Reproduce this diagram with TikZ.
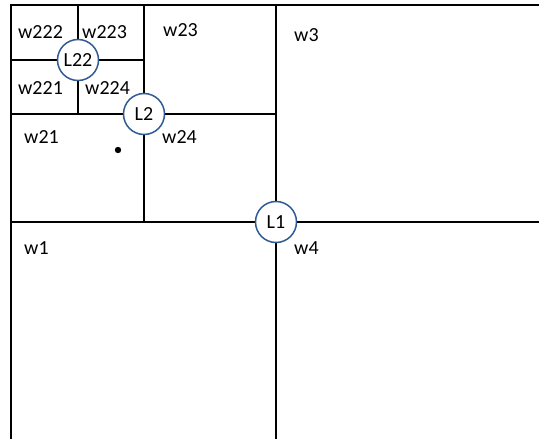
\documentclass[tikz,border=0pt]{standalone}
\usepackage{fontspec}
\setmainfont{Carlito}
\definecolor{circblue}{HTML}{2F5A94}
\begin{document}
\begin{tikzpicture}[x=1pt,y=-1pt,
  wall/.style={line width=1.3pt,black},
  lab/.style={anchor=west,inner sep=0pt,font=\fontsize{20}{22}\selectfont},
  lnode/.style={circle,draw=circblue,fill=white,line width=1.5pt,minimum size=41pt,inner sep=0pt,font=\fontsize{20}{22}\selectfont}]
\useasboundingbox (0,0) rectangle (539,439);
% frame corners
\coordinate (tl) at (11,5);
\coordinate (tr) at (539,5);
\coordinate (bl) at (11,439);
\draw[line width=1.8pt] (bl) -- (tl) -- (tr);
% level 1
\coordinate (h1l) at (11,222);
\coordinate (h1r) at (539,222);
\coordinate (v1t) at (276,5);
\coordinate (v1b) at (276,439);
\draw[wall] (h1l) -- (h1r);
\draw[wall] (v1t) -- (v1b);
% level 2
\coordinate (v2t) at (144,5);
\coordinate (v2b) at (144,222);
\coordinate (h2l) at (11,114);
\coordinate (h2r) at (276,114);
\draw[wall] (v2t) -- (v2b);
\draw[wall] (h2l) -- (h2r);
% level 3
\coordinate (v3t) at (78,5);
\coordinate (v3b) at (78,114);
\coordinate (h3l) at (11,60);
\coordinate (h3r) at (144,60);
\draw[wall] (v3t) -- (v3b);
\draw[wall] (h3l) -- (h3r);
% circles
\node[lnode] (L22) at (78,60) {L22};
\node[lnode] (L2) at (144,114) {L2};
\node[lnode] (L1) at (276,222) {L1};
% dot
\fill (118,150) circle (3.2pt);
% labels
\node[lab] (w222) at (18,32) {w222};
\node[lab] (w223) at (82,32) {w223};
\node[lab] (w23) at (163,30) {w23};
\node[lab] (w3) at (294,35) {w3};
\node[lab] (w221) at (18,88) {w221};
\node[lab] (w224) at (85,88) {w224};
\node[lab] (w21) at (24,137) {w21};
\node[lab] (w24) at (162,137) {w24};
\node[lab] (w1) at (24,248) {w1};
\node[lab] (w4) at (294,248) {w4};
\end{tikzpicture}
\end{document}
